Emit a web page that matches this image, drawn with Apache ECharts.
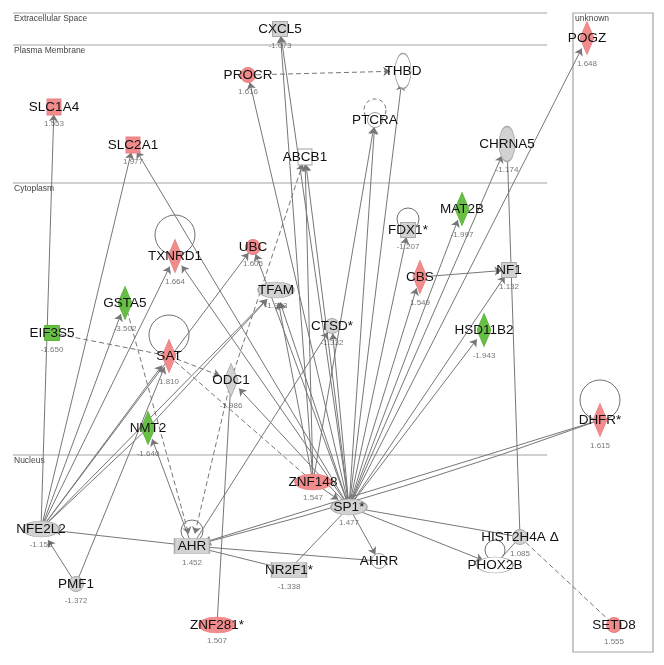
<!DOCTYPE html>
<html><head><meta charset="utf-8">
<script src="https://cdn.jsdelivr.net/npm/echarts@6/dist/echarts.min.js"></script>
<style>html,body{margin:0;padding:0;background:#fff}#chart{width:664px;height:665px}</style>
</head><body><div id="chart"></div>
<script>
// ---- data ----
const nodeNames = ['CXCL5','PROCR','THBD','PTCRA','SLC1A4','SLC2A1','ABCB1','CHRNA5','POGZ','TXNRD1','UBC','TFAM','GSTA5','EIF3S5','SAT','ODC1','NMT2','CTSD*','FDX1*','MAT2B','CBS','NF1','HSD11B2','DHFR*','ZNF148','SP1*','NFE2L2','AHR','PMF1','NR2F1*','ZNF281*','AHRR','HIST2H4A Δ','PHOX2B','SETD8'];
const nodeX = [280,248,403,375,54,133,305,507,587,175,253,276,125,52,169,231,148,332,408,462,420,509,484,600,313,349,41,192,76,289,217,379,520,495,614];
const nodeY = [29,75,71,120,107,145,157,144,38,256,247,290,303,333,356,380,428,326,230,209,277,270,330,420,482,507,529,546,584,570,625,561,537,565,625];
const nodeValues = ['-1.073','1.616','','','1.553','1.977','','-1.174','1.648','1.664','1.605','-1.353','-3.502','-1.650','1.810','-1.986','-1.640','-1.332','-1.207','-1.997','1.549','1.132','-1.943','1.615','1.547','1.477','-1.156','1.452','-1.372','-1.338','1.507','','1.085','','1.555'];
const nodeRegulation = ['none','up','blank','blank','up','up','blank','none','up','up','up','none','down','down','up','none','down','none','none','down','up','none','down','up','up','none','none','none','none','none','up','blank','none','blank','up'];
const nodeShapes = ['square','circle','vellipse','circle','transporter','transporter','transporter','vellipse','diamond','diamond','circle','hellipse','diamond','square','diamond','diamond','diamond','circle','square','diamond','diamond','square','diamond','diamond','hellipse','hellipse','hellipse','rect','circle','rect','hellipse','circle','circle','hellipse','circle'];

const linkSource = ['SP1*','ZNF148','SP1*','PROCR','SP1*','SP1*','ZNF148','SP1*','ZNF148','ODC1','SP1*','HIST2H4A Δ','SP1*','NFE2L2','NFE2L2','SP1*','NFE2L2','SP1*','NFE2L2','SP1*','NFE2L2','GSTA5','SP1*','ZNF148','NFE2L2','NMT2','EIF3S5','SAT','NFE2L2','PMF1','SAT','SP1*','ZNF281*','ODC1','AHR','NFE2L2','SP1*','AHR','SP1*','SP1*','SP1*','CBS','SP1*','SP1*','DHFR*','DHFR*','AHR','PMF1','AHR','NR2F1*','AHR','SP1*','SP1*','SP1*','HIST2H4A Δ','HIST2H4A Δ','ZNF148'];
const linkTarget = ['CXCL5','CXCL5','PROCR','THBD','THBD','PTCRA','PTCRA','ABCB1','ABCB1','ABCB1','CHRNA5','CHRNA5','POGZ','SLC1A4','SLC2A1','SLC2A1','TXNRD1','TXNRD1','UBC','UBC','GSTA5','AHR','TFAM','TFAM','TFAM','TFAM','SAT','ODC1','SAT','SAT','ZNF148','ODC1','ODC1','AHR','NMT2','NMT2','CTSD*','CTSD*','FDX1*','MAT2B','CBS','NF1','NF1','HSD11B2','AHR','AHR','NFE2L2','NFE2L2','NR2F1*','SP1*','AHRR','AHRR','PHOX2B','HIST2H4A Δ','PHOX2B','SETD8','SP1*'];
const linkKind = ['arrow','arrow','arrow','dashArrow','arrow','arrow','arrow','arrow','arrow','dashArrow','arrow','plain','arrow','arrow','arrow','arrow','arrow','arrow','arrow','arrow','arrow','dashArrow','arrow','arrow','arrow','arrow','dash','dashArrow','arrow','arrow','dash','arrow','plain','dashArrow','arrow','plain','arrow','arrow','arrow','arrow','arrow','arrow','arrow','arrow','arrow','arrow','arrow','arrow','plain','plain','plain','arrow','arrow','plain','plain','dash','arrow'];

const selfLoopNodes = ['TXNRD1','SAT','DHFR*','FDX1*','PTCRA','AHR','PHOX2B'];
const compartmentNames = ['Extracellular Space','Plasma Membrane','Cytoplasm','Nucleus'];
const compartmentTop = [13,45,183,455];

// ---- styles ----
const FONT = '"Liberation Sans", Arial, sans-serif';
const ELLIPSE = 'path://M0,50 A50,50 0 1,1 100,50 A50,50 0 1,1 0,50 Z';
const shapeSpec = {
  square: {symbol:'rect', size:[15,15], valOff:17},
  circle: {symbol:'circle', size:15, valOff:17},
  vellipse: {symbol:ELLIPSE, size:[16,35], valOff:26},
  hellipse: {symbol:ELLIPSE, size:[36,16], valOff:16},
  transporter: {symbol:'rect', size:[14,16], valOff:17},
  diamond: {symbol:'diamond', size:[14,33], valOff:26},
  rect: {symbol:'rect', size:[35,15], valOff:17}
};
const fillColor = {up:'#f28c8c', down:'#68bf45', none:'#d2d2d2', blank:'#ffffff'};
const borderColor = {up:'#e88080', down:'#5cb23a', none:'#a8a8a8', blank:'#a0a0a0'};
const loopStyle = {
  'TXNRD1':{off:21,r:20,dashed:false}, 'SAT':{off:21,r:20,dashed:false},
  'DHFR*':{off:20,r:20,dashed:false}, 'FDX1*':{off:11,r:11,dashed:false},
  'PTCRA':{off:10,r:11,dashed:true}, 'AHR':{off:15,r:11,dashed:false},
  'PHOX2B':{off:15,r:10,dashed:false}
};

const nodes = nodeNames.map((n,i)=>{
  const sp = shapeSpec[nodeShapes[i]];
  return {
    name:n, value:[nodeX[i], nodeY[i]],
    symbol: sp.symbol, symbolSize: sp.size,
    itemStyle:{color: fillColor[nodeRegulation[i]], borderColor: borderColor[nodeRegulation[i]], borderWidth:1}
  };
});
const links = linkSource.map((s,i)=>{
  const k = linkKind[i];
  const dup = linkSource.slice(0,i).some((x,j)=>x===s && linkTarget[j]===linkTarget[i]);
  return {
    source:s, target:linkTarget[i],
    symbol: (k==='arrow'||k==='dashArrow') ? ['none','arrow'] : ['none','none'],
    lineStyle:{type: (k==='dash'||k==='dashArrow') ? [5,3] : 'solid', curveness: dup ? 0.025 : 0}
  };
});
const valueData = [];
nodeNames.forEach((n,i)=>{
  if (nodeValues[i] === '') return;
  valueData.push({value:[nodeX[i], nodeY[i]], label:{formatter: nodeValues[i], offset:[0, shapeSpec[nodeShapes[i]].valOff]}});
});
const loopData = selfLoopNodes.map(n=>{ const i = nodeNames.indexOf(n); return [nodeX[i], nodeY[i]]; });
const compData = compartmentNames.map((n,i)=>[13, compartmentTop[i]]);

const chart = echarts.init(document.getElementById('chart'), null, {renderer:'canvas'});
chart.setOption({
  backgroundColor:'#ffffff',
  animation:false,
  grid:{left:0,right:0,top:0,bottom:0},
  xAxis:{type:'value', min:0, max:664, show:false},
  yAxis:{type:'value', min:0, max:665, inverse:true, show:false},
  series:[
    {
      type:'custom', z:0, silent:true, data: compData,
      renderItem:(params, api)=>{
        const i = params.dataIndex;
        const a = api.coord([13, api.value(1)]);
        const b = api.coord([547, api.value(1)]);
        return {type:'group', children:[
          {type:'line', shape:{x1:a[0], y1:a[1], x2:b[0], y2:b[1]}, style:{stroke:'#a3a3a3', lineWidth:1.2}},
          {type:'text', x:a[0]+1, y:a[1]+6, style:{text:compartmentNames[i], fontSize:8.5, fontFamily:FONT, fill:'#444', align:'left', verticalAlign:'middle'}}
        ]};
      }
    },
    {
      type:'custom', z:0, silent:true, data:[[573,13,653,652]],
      renderItem:(params, api)=>{
        const a = api.coord([api.value(0), api.value(1)]);
        const b = api.coord([api.value(2), api.value(3)]);
        return {type:'group', children:[
          {type:'rect', shape:{x:a[0], y:a[1], width:b[0]-a[0], height:b[1]-a[1]}, style:{fill:'none', stroke:'#a3a3a3', lineWidth:1.2}},
          {type:'text', x:a[0]+2, y:a[1]+6, style:{text:'unknown', fontSize:8.5, fontFamily:FONT, fill:'#444', align:'left', verticalAlign:'middle'}}
        ]};
      }
    },
    {
      type:'custom', z:1, silent:true, data: loopData,
      renderItem:(params, api)=>{
        const s = loopStyle[selfLoopNodes[params.dataIndex]];
        const c = api.coord([api.value(0), api.value(1)]);
        return {type:'circle', shape:{cx:c[0], cy:c[1]-s.off, r:s.r}, style:{fill:'none', stroke:'#707070', lineWidth:1, lineDash: s.dashed ? [4,3] : null}};
      }
    },
    {
      type:'graph', coordinateSystem:'cartesian2d', layout:'none', z:3,
      data: nodes, links: links,
      edgeSymbol:['none','arrow'], edgeSymbolSize:[4,7],
      lineStyle:{color:'#777777', width:1, opacity:1},
      label:{show:true, position:'inside', formatter:'{b}', fontSize:13.5, color:'#111', fontFamily:FONT},
      emphasis:{disabled:true}, silent:true
    },
    {
      type:'scatter', z:4, symbolSize:0, silent:true, data: valueData,
      label:{show:true, position:'inside', fontSize:8, color:'#555', fontFamily:FONT}
    }
  ]
});
</script>
</body></html>
